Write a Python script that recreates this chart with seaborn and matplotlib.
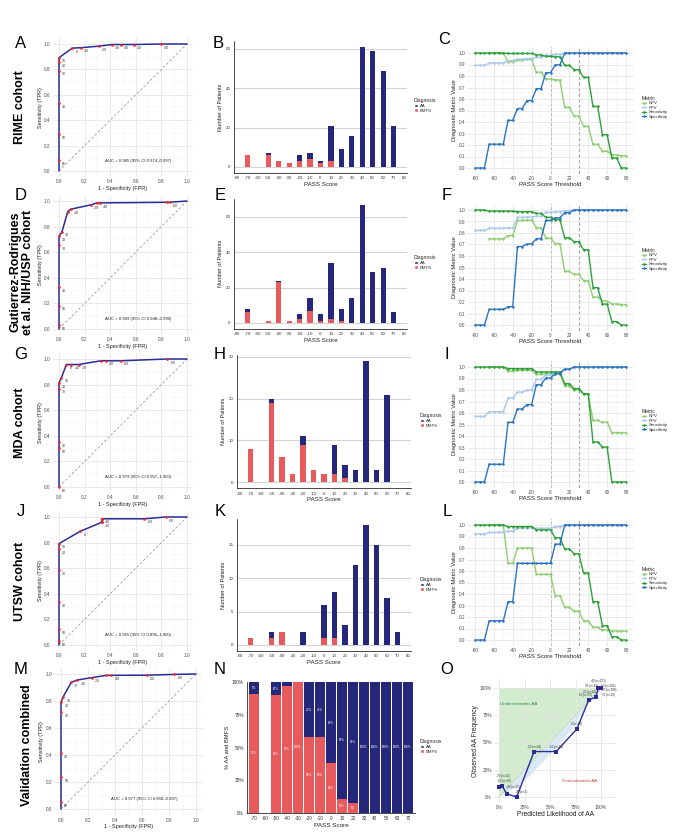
import numpy as np
import pandas as pd
import matplotlib
matplotlib.use("Agg")
import matplotlib.pyplot as plt
import seaborn as sns
from matplotlib.patches import Patch
from matplotlib.lines import Line2D
from matplotlib.ticker import FixedLocator, PercentFormatter, FormatStrFormatter

# ------------------------------------------------------------------ data
scores = [-70, -60, -50, -40, -30, -20, -10, 0, 10, 20, 30, 40, 50, 60, 70]

rime_aa   = [0, 0, 1, 0, 0, 3, 3, 1, 18, 9, 16, 61, 59, 49, 21]
rime_bmfs = [6, 0, 6, 3, 2, 3, 4, 2, 3, 0, 0, 0, 0, 0, 0]
nih_aa    = [2, 0, 0, 1, 0, 3, 7, 4, 32, 7, 14, 67, 29, 31, 6]
nih_bmfs  = [6, 0, 1, 23, 1, 2, 7, 1, 2, 1, 0, 0, 0, 0, 0]
mda_aa    = [0, 0, 1, 0, 0, 2, 0, 0, 7, 3, 3, 29, 3, 21, 0]
mda_bmfs  = [8, 0, 19, 6, 2, 9, 3, 2, 2, 1, 0, 0, 0, 0, 0]
utsw_aa   = [0, 0, 1, 0, 0, 2, 0, 5, 7, 3, 12, 18, 15, 7, 2]
utsw_bmfs = [1, 0, 1, 2, 0, 0, 0, 1, 1, 0, 0, 0, 0, 0, 0]

# ROC curves (threshold labels, FPR, TPR); first/last entries are the curve ends
roc_labels = ["", "60", "50", "40", "30", "20", "10", "0", "-10", "-20", "-30", "-40", "-50", "-60", ""]
rime_fpr = [0, 0, 0, 0, 0, 0, 0, .103, .172, .310, .414, .483, .586, .793, 1]
rime_tpr = [0, .087, .290, .535, .788, .855, .892, .967, .971, .983, .996, .996, .996, 1.0, 1]
rime_show = roc_labels
nih_fpr = [0, 0, 0, 0, 0, 0, .023, .068, .091, .250, .295, .318, .841, .864, 1]
nih_tpr = [0, .030, .182, .325, .655, .724, .759, .916, .936, .970, .985, .985, .990, .990, 1]
nih_show = ["", "60", "50", "40", "30", "20", "10", "", "-10", "-20", "", "-40", "", "-60", ""]
mda_fpr = [0, 0, 0, 0, 0, 0, .019, .058, .096, .154, .327, .365, .481, .846, 1]
mda_tpr = [0, 0, .304, .348, .768, .812, .855, .957, .957, .957, .986, .986, .986, 1.0, 1]
mda_show = ["", "60", "50", "40", "30", "20", "10", "0", "-10", "-20", "", "-40", "-50", "-60", ""]
utsw_fpr = [0, 0, 0, 0, 0, 0, 0, .167, .333, .333, .333, .333, .667, .833, 1]
utsw_tpr = [0, .028, .125, .333, .583, .750, .792, .889, .958, .958, .986, .986, .986, 1.0, 1]
utsw_show = ["", "60", "50", "40", "30", "20", "10", "0", "-10", "", "", "-40", "-50", "-60", ""]
comb_fpr = [0, 0, 0, 0, 0, 0, .015, .076, .122, .229, .336, .374, .634, .840, 1]
comb_tpr = [0, .050, .234, .415, .715, .791, .829, .938, .956, .973, .990, .990, .991, .997, 1]
comb_show = ["", "60", "50", "40", "30", "20", "10", "0", "-10", "-20", "", "-40", "-50", "-60", ""]

auc_texts = ["AUC = 0.985 (95% CI 0.974\u20130.997)",
             "AUC = 0.969 (95% CI 0.948\u20130.990)",
             "AUC = 0.979 (95% CI 0.957\u20131.000)",
             "AUC = 0.955 (95% CI 0.896\u20131.000)",
             "AUC = 0.977 (95% CI 0.968\u20130.987)"]

# diagnostic metrics vs threshold
thresholds = list(range(-80, 81, 5))
nan = np.nan
rime_sens = [1, 1, 1, 1, 1, 1, 1, .996, .996, .996, .996, .996, .996, .983, .983, .971, .971, .967, .967,
             .892, .892, .855, .855, .788, .788, .535, .535, .290, .290, .087, .087, 0, 0]
rime_spec = [0, 0, 0, .207, .207, .207, .207, .414, .414, .517, .517, .586, .586, .690, .690, .828, .828,
             .897, .897, 1, 1, 1, 1, 1, 1, 1, 1, 1, 1, 1, 1, 1, 1]
rime_ppv = [.893, .893, .893, .913, .913, .913, .913, .934, .934, .945, .945, .952, .952, .963, .963, .979,
            .979, .987, .987, 1, 1, 1, 1, 1, 1, 1, 1, 1, 1, 1, 1, 1, 1]
rime_npv = [nan, nan, nan, 1, 1, 1, 1, .923, .923, .938, .938, .944, .944, .833, .833, .774, .774, .765,
            .765, .527, .527, .453, .453, .363, .363, .206, .206, .145, .145, .116, .116, .107, .107]

nih_sens = [1, 1, 1, .990, .990, .990, .990, .990, .990, .985, .985, .985, .985, .970, .970, .936, .936,
            .916, .916, .759, .759, .724, .724, .655, .655, .325, .325, .182, .182, .030, .030, 0, 0]
nih_spec = [0, 0, 0, .136, .136, .136, .136, .159, .159, .682, .682, .705, .705, .750, .750, .909, .909,
            .932, .932, .977, .977, 1, 1, 1, 1, 1, 1, 1, 1, 1, 1, 1, 1]
nih_ppv = [.822, .822, .822, .841, .841, .841, .841, .845, .845, .935, .935, .939, .939, .947, .947, .979,
           .979, .984, .984, .994, .994, 1, 1, 1, 1, 1, 1, 1, 1, 1, 1, 1, 1]
nih_npv = [nan, nan, nan, .75, .75, .75, .75, .778, .778, .909, .909, .912, .912, .846, .846, .755, .755,
           .707, .707, .467, .467, .44, .44, .386, .386, .243, .243, .210, .210, .183, .183, .178, .178]

mda_sens = [1, 1, 1, 1, 1, 1, 1, .986, .986, .986, .986, .986, .986, .957, .957, .957, .957, .957, .957,
            .855, .855, .812, .812, .768, .768, .348, .348, .304, .304, 0, 0, 0, 0]
mda_spec = [0, 0, 0, .154, .154, .154, .154, .519, .519, .635, .635, .673, .673, .846, .846, .904, .904,
            .942, .942, .981, .981, 1, 1, 1, 1, 1, 1, 1, 1, 1, 1, 1, 1]
mda_ppv = [.570, .570, .570, .611, .611, .611, .611, .731, .731, .782, .782, .800, .800, .892, .892, .930,
           .930, .957, .957, .983, .983, 1, 1, 1, 1, 1, 1, 1, 1, 1, 1, 1, 1]
mda_npv = [nan, nan, nan, 1, 1, 1, 1, .964, .964, .971, .971, .972, .972, .936, .936, .940, .940, .942,
           .942, .836, .836, .800, .800, .765, .765, .536, .536, .520, .520, .430, .430, .430, .430]

utsw_sens = [1, 1, 1, 1, 1, 1, 1, .986, .986, .986, .986, .986, .986, .958, .958, .958, .958, .889, .889,
             .792, .792, .750, .750, .583, .583, .333, .333, .125, .125, .028, .028, 0, 0]
utsw_spec = [0, 0, 0, .167, .167, .167, .167, .333, .333, .667, .667, .667, .667, .667, .667, .667, .667,
             .833, .833, 1, 1, 1, 1, 1, 1, 1, 1, 1, 1, 1, 1, 1, 1]
utsw_ppv = [.923, .923, .923, .935, .935, .935, .935, .947, .947, .973, .973, .973, .973, .972, .972, .972,
            .972, .985, .985, 1, 1, 1, 1, 1, 1, 1, 1, 1, 1, 1, 1, 1, 1]
utsw_npv = [nan, nan, nan, 1, 1, 1, 1, .667, .667, .8, .8, .8, .8, .571, .571, .571, .571, .385, .385,
            .286, .286, .25, .25, .167, .167, .111, .111, .087, .087, .079, .079, .077, .077]

# 100% stacked (combined)
comb_pct_aa   = [9, nan, 10, 3, 0, 42, 42, 62, 89, 92, 100, 100, 100, 100, 100]
comb_pct_bmfs = [91, nan, 90, 97, 100, 58, 58, 38, 11, 8, 0, 0, 0, 0, 0]

# calibration
cal_scores = [-70, -50, -40, -30, -20, -10, 0, 10, 20, 30, 40, 50, 60, 70]
cal_n      = [22, 30, 35, 5, 24, 24, 16, 72, 24, 45, 175, 106, 108, 29]
cal_pred   = [.003, .033, .075, .174, .344, .56, .764, .879, .95, .975, .99, .995, .998, 1.0]
cal_obs    = [.091, .100, .029, 0, .417, .417, .625, .889, .917, 1, 1, 1, 1, 1]
band_x  = [0, .1, .2, .3, .4, .5, .6, .7, .8, .9, 1]
band_lo = [0, .06, .12, .2, .3, .4, .5, .62, .76, .89, 1]

# label placement for calibration points (layout only: offset from point, alignment)
cal_lab_off = {-70: (0.04, 0.085, "center"), -50: (0.02, 0.025, "center"), -40: (0.06, 0.04, "center"),
               -30: (0.04, 0.03, "center"), -20: (0, 0.025, "center"), -10: (0, 0.025, "center"),
               0: (0, 0.025, "center"), 10: (-0.035, 0.025, "center"), 20: (-0.06, 0.03, "center"),
               30: (-0.07, 0.0, "center"), 40: (-0.02, 0.045, "center"), 50: (0.075, 0.0, "center"),
               60: (0.085, -0.04, "center"), 70: (0.075, -0.08, "center")}

# ------------------------------------------------------------------ style
NAVY = "#24277A"
RED = "#E85A5C"
ROC_C = "#2A2C98"
MET_COLORS = {"NPV": "#8FCF73", "PPV": "#A9C8EC", "Sensitivity": "#2E9F3A", "Specificity": "#2B74BE"}

sns.set_theme(style="whitegrid")
plt.rcParams['font.family'] = ['Liberation Sans', 'DejaVu Sans']
plt.rcParams['axes.unicode_minus'] = False

W, H = 676, 840
fig = plt.figure(figsize=(W / 100, H / 100), dpi=100)
fig.patch.set_facecolor("white")


def place(xa, pxa, xb, pxb, xlim, ya, pya, yb, pyb, ylim):
    sx = (pxb - pxa) / (xb - xa)
    left = pxa + (xlim[0] - xa) * sx
    right = pxa + (xlim[1] - xa) * sx
    sy = (pyb - pya) / (yb - ya)
    top = pya + (ylim[1] - ya) * sy
    bottom = pya + (ylim[0] - ya) * sy
    ax = fig.add_axes([left / W, 1 - bottom / H, (right - left) / W, (bottom - top) / H])
    return ax


def minimal(ax):
    ax.set_facecolor("white")
    for s in ax.spines.values():
        s.set_visible(False)
    ax.grid(True, which="major", color="#E4E4E4", lw=0.55)
    ax.grid(True, which="minor", color="#F2F2F2", lw=0.35)
    ax.tick_params(which="both", length=0, labelsize=3.4, colors="#4D4D4D", pad=1.5)


def roc_panel(ax, fpr, tpr, show, auc):
    ax.plot([0, 1], [0, 1], color="#9A9A9A", lw=0.6, ls=(0, (3, 2.5)), zorder=1)
    sns.lineplot(x=fpr, y=tpr, sort=False, estimator=None, color=ROC_C, lw=1.1, ax=ax, zorder=2)
    sns.scatterplot(x=fpr[1:-1], y=tpr[1:-1], color="#FF2020", s=3.5, linewidth=0, ax=ax, zorder=3)
    for f, t, l in zip(fpr, tpr, show):
        if l:
            ax.text(f + 0.025, t - 0.028, l, fontsize=2.5, color="#333333", ha="left", va="center")
    ax.text(0.62, 0.075, auc, fontsize=3.1, ha="center", va="center", color="#222222")
    ax.set_xlim(-0.05, 1.05)
    ax.set_ylim(-0.05, 1.05)
    ax.xaxis.set_major_locator(FixedLocator([0, .2, .4, .6, .8, 1.0]))
    ax.yaxis.set_major_locator(FixedLocator([0, .2, .4, .6, .8, 1.0]))
    ax.xaxis.set_minor_locator(FixedLocator([.1, .3, .5, .7, .9]))
    ax.yaxis.set_minor_locator(FixedLocator([.1, .3, .5, .7, .9]))
    ax.xaxis.set_major_formatter(FormatStrFormatter("%.1f"))
    ax.yaxis.set_major_formatter(FormatStrFormatter("%.1f"))
    minimal(ax)
    ax.set_xlabel("1 - Specificity (FPR)", fontsize=4, labelpad=1, color="#222222")
    ax.set_ylabel("Sensitivity (TPR)", fontsize=4, labelpad=1, color="#222222")


def diag_legend(ax, xpx, ypx):
    handles = [Patch(facecolor=NAVY, label="AA"), Patch(facecolor=RED, label="BMFS")]
    leg = ax.legend(handles=handles, title="Diagnosis", loc="upper left",
                    bbox_to_anchor=(xpx / W, 1 - ypx / H), bbox_transform=fig.transFigure,
                    frameon=False, fontsize=3.1, title_fontsize=3.6, handlelength=0.9,
                    handleheight=0.9, handletextpad=0.5, labelspacing=0.12,
                    borderaxespad=0, borderpad=0)
    leg._legend_box.align = "left"


def bar_panel(ax, aa, bmfs, yticks, ylim, legpos):
    tot = np.array(aa) + np.array(bmfs)
    sns.barplot(x=scores, y=tot, native_scale=True, width=0.5, color=NAVY, saturation=1,
                errorbar=None, linewidth=0, ax=ax)
    sns.barplot(x=scores, y=bmfs, native_scale=True, width=0.5, color=RED, saturation=1,
                errorbar=None, linewidth=0, ax=ax)
    ax.set_xlim(-83, 83)
    ax.set_ylim(*ylim)
    ax.set_facecolor("white")
    ax.xaxis.set_major_locator(FixedLocator(list(range(-80, 81, 10))))
    ax.yaxis.set_major_locator(FixedLocator(yticks))
    ax.grid(False)
    ax.grid(True, axis="y", color="#D4D4D4", lw=0.8)
    for s in ["top", "right"]:
        ax.spines[s].set_visible(False)
    for s in ["left", "bottom"]:
        ax.spines[s].set_visible(True)
        ax.spines[s].set_color("black")
        ax.spines[s].set_linewidth(0.5)
    ax.tick_params(which="both", length=1.5, width=0.4, labelsize=3.2, colors="#333333", pad=1)
    ax.set_xlabel("PASS Score", fontsize=4.4, labelpad=1, color="#222222")
    ax.set_ylabel("Number of Patients", fontsize=4, labelpad=1.5, color="#222222")
    diag_legend(ax, *legpos)


def metric_panel(ax, sens, spec, ppv, npv, legpos):
    rows = []
    for name, vals in [("NPV", npv), ("PPV", ppv), ("Sensitivity", sens), ("Specificity", spec)]:
        for t, v in zip(thresholds, vals):
            if not np.isnan(v):
                rows.append({"thr": t, "val": v, "Metric": name})
    df = pd.DataFrame(rows)
    sns.lineplot(data=df, x="thr", y="val", hue="Metric",
                 hue_order=["NPV", "PPV", "Sensitivity", "Specificity"], palette=MET_COLORS,
                 estimator=None, marker="o", markersize=1.8, markeredgewidth=0, lw=1.0,
                 legend=False, ax=ax)
    ax.axvline(0, color="#333333", lw=0.7, ls=(0, (3, 2)), zorder=0.5)
    ax.axvline(30, color="#888888", lw=0.8, ls=(0, (3, 2)), zorder=0.5)
    ax.set_xlim(-88, 88)
    ax.set_ylim(-0.05, 1.05)
    ax.xaxis.set_major_locator(FixedLocator(list(range(-80, 81, 20))))
    ax.xaxis.set_minor_locator(FixedLocator(list(range(-70, 71, 20))))
    ax.yaxis.set_major_locator(FixedLocator([i / 10 for i in range(11)]))
    ax.yaxis.set_minor_locator(FixedLocator([i / 10 + 0.05 for i in range(10)]))
    ax.yaxis.set_major_formatter(FormatStrFormatter("%.1f"))
    minimal(ax)
    ax.set_xlabel("PASS Score Threshold", fontsize=4.4, labelpad=1, color="#222222")
    ax.set_ylabel("Diagnostic Metric Value", fontsize=4.2, labelpad=1.5, color="#222222")
    handles = [Line2D([], [], color=MET_COLORS[m], marker="o", markersize=1.8, lw=1.0,
                      markeredgewidth=0, label=m)
               for m in ["NPV", "PPV", "Sensitivity", "Specificity"]]
    leg = ax.legend(handles=handles, title="Metric", loc="upper left",
                    bbox_to_anchor=(legpos[0] / W, 1 - legpos[1] / H), bbox_transform=fig.transFigure,
                    frameon=False, fontsize=3.1, title_fontsize=3.6, handlelength=1.0,
                    handletextpad=0.5, labelspacing=0.1, borderaxespad=0, borderpad=0)
    leg._legend_box.align = "left"


# ------------------------------------------------------------------ ROC column
roc_geo = [(59, 187, 44, 171), (59, 187, 201, 329), (59, 187, 359, 487), (59, 187, 517, 645), (61, 196, 674, 809)]
roc_data = [(rime_fpr, rime_tpr, rime_show), (nih_fpr, nih_tpr, nih_show), (mda_fpr, mda_tpr, mda_show),
            (utsw_fpr, utsw_tpr, utsw_show), (comb_fpr, comb_tpr, comb_show)]
for (x0, x1, y1, y0), (f, t, s), auc in zip(roc_geo, roc_data, auc_texts):
    ax = place(0, x0, 1, x1, (-0.05, 1.05), 0, y0, 1, y1, (-0.05, 1.05))
    roc_panel(ax, f, t, s, auc)

# ------------------------------------------------------------------ bar column
bar_specs = [
    (rime_aa, rime_bmfs, 237, 404, 167, 60, 49, [0, 20, 40, 60], (-3.05, 64.05), (414, 98)),
    (nih_aa, nih_bmfs, 237, 404, 323, 60, 217, [0, 20, 40, 60], (-3.35, 70.35), (414, 255)),
    (mda_aa, mda_bmfs, 240, 408, 482, 30, 357, [0, 10, 20, 30], (-1.45, 30.45), (420, 413)),
    (utsw_aa, utsw_bmfs, 240, 408, 645, 15, 545, [0, 5, 10, 15], (-0.9, 18.9), (420, 577)),
]
for aa, bm, xl, xr, y0, yv, yvpx, yt, yl, lp in bar_specs:
    ax = place(-80, xl, 80, xr, (-83, 83), 0, y0, yv, yvpx, yl)
    bar_panel(ax, aa, bm, yt, yl, lp)

# 100% stacked panel (N)
cats = [str(s) for s in scores]
axn = place(0, 254, 14, 408, (-0.6, 14.6), 0, 813, 1, 682, (0, 1))
pa = np.nan_to_num(np.array(comb_pct_aa, dtype=float))
pb = np.nan_to_num(np.array(comb_pct_bmfs, dtype=float))
sns.barplot(x=cats, y=(pa + pb) / 100, order=cats, color=NAVY, saturation=1, width=0.9,
            errorbar=None, linewidth=0, ax=axn)
sns.barplot(x=cats, y=pb / 100, order=cats, color=RED, saturation=1, width=0.9,
            errorbar=None, linewidth=0, ax=axn)
for i, (a, b) in enumerate(zip(comb_pct_aa, comb_pct_bmfs)):
    if np.isnan(a):
        continue
    if b >= 5:
        axn.text(i, b / 200, f"{int(b)}%", fontsize=2.2, color="white", ha="center", va="center")
    if a >= 5:
        axn.text(i, (b + a / 2) / 100, f"{int(a)}%", fontsize=2.2, color="white", ha="center", va="center")
axn.set_xlim(-0.6, 14.6)
axn.set_ylim(0, 1)
axn.set_facecolor("white")
axn.grid(False)
for s in ["top", "right"]:
    axn.spines[s].set_visible(False)
for s in ["left", "bottom"]:
    axn.spines[s].set_visible(True)
    axn.spines[s].set_color("black")
    axn.spines[s].set_linewidth(0.5)
axn.yaxis.set_major_locator(FixedLocator([0, .25, .5, .75, 1]))
axn.yaxis.set_major_formatter(PercentFormatter(1, decimals=0))
axn.tick_params(which="both", length=1.5, width=0.4, labelsize=3.4, colors="#333333", pad=1)
axn.set_xlabel("PASS Score", fontsize=4.6, labelpad=1, color="#222222")
axn.set_ylabel("% AA and BMFS", fontsize=4.2, labelpad=1.5, color="#222222")
diag_legend(axn, 420, 739)

# ------------------------------------------------------------------ metric column
met_specs = [
    (rime_sens, rime_spec, rime_ppv, rime_npv, 53, 168, (642, 96)),
    (nih_sens, nih_spec, nih_ppv, nih_npv, 210, 325, (642, 248)),
    (mda_sens, mda_spec, mda_ppv, mda_npv, 367, 482, (642, 409)),
    (utsw_sens, utsw_spec, utsw_ppv, utsw_npv, 525, 640, (642, 567)),
]
for se, sp, pp, nv, y1, y0, lp in met_specs:
    ax = place(-80, 475, 80, 626, (-88, 88), 0, y0, 1, y1, (-0.05, 1.05))
    metric_panel(ax, se, sp, pp, nv, lp)

# ------------------------------------------------------------------ calibration (O)
axo = place(0, 499, 1, 601, (-0.05, 1.15), 0, 797, 1, 688, (-0.05, 1.08))
axo.fill_between([0, 1], [0, 1], [1, 1], color="#D3EBCF", lw=0, zorder=0.5)
axo.fill_between(band_x, band_lo, band_x, color="#D9E8F6", lw=0, zorder=0.6)
axo.plot([0, 1], [0, 1], color="#BBBBBB", lw=0.5, ls=(0, (2, 2)), zorder=0.7)
sns.lineplot(x=cal_pred, y=cal_obs, sort=False, estimator=None, color=ROC_C, lw=1.0,
             marker="s", markersize=2.2, markeredgewidth=0, ax=axo, zorder=3)
for s_, n_, x_, y_ in zip(cal_scores, cal_n, cal_pred, cal_obs):
    dx, dy, ha = cal_lab_off[s_]
    axo.text(x_ + dx, y_ + dy, f"{s_} (n={n_})", fontsize=2.2, ha=ha, va="bottom", color="#333333",
             zorder=4)
axo.text(0.01, 0.85, "Underestimates AA", fontsize=3.2, color="#2E8B3A", ha="left", va="center")
axo.text(0.62, 0.15, "Overestimates AA", fontsize=3.2, color="#D03535", ha="left", va="center")
axo.set_xlim(-0.05, 1.15)
axo.set_ylim(-0.05, 1.08)
for axis in (axo.xaxis, axo.yaxis):
    axis.set_major_locator(FixedLocator([0, .25, .5, .75, 1]))
    axis.set_major_formatter(PercentFormatter(1, decimals=0))
minimal(axo)
axo.tick_params(labelsize=3.4)
axo.set_xlabel("Predicted Likelihood of AA", fontsize=4.8, labelpad=1, color="#222222")
axo.set_ylabel("Observed AA Frequency", fontsize=4.8, labelpad=1, color="#222222")

# ------------------------------------------------------------------ letters and row labels
letters = [("A", 21, 44), ("B", 218, 44), ("C", 444, 40),
           ("D", 21, 196), ("E", 220, 196), ("F", 447, 196),
           ("G", 21, 354), ("H", 220, 354), ("I", 447, 354),
           ("J", 21, 512), ("K", 220, 512), ("L", 447, 512),
           ("M", 21, 670), ("N", 220, 670), ("O", 447, 670)]
for t, x, y in letters:
    fig.text(x / W, 1 - y / H, t, fontsize=12, ha="center", va="center", color="black")

row_labels = [("RIME cohort", 20, 107), ("Gutierrez-Rodrigues\net al. NIH/USP cohort", 22, 272),
              ("MDA cohort", 20, 423), ("UTSW cohort", 20, 581), ("Validation combined", 27, 745)]
for t, x, y in row_labels:
    fig.text(x / W, 1 - y / H, t, fontsize=9, fontweight="bold", rotation=90, ha="center",
             va="center", multialignment="center", linespacing=1.0, color="black")

fig.savefig("out.png", dpi=100, facecolor="white")
